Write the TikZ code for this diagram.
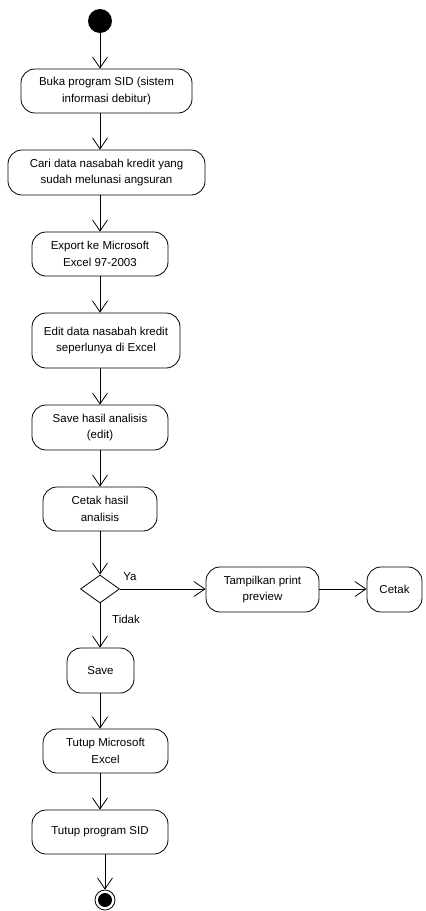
\documentclass[tikz,border=0pt]{standalone}
\usepackage{fontspec}
\setmainfont{Liberation Sans}
\usetikzlibrary{arrows.meta,shapes.geometric}

\begin{document}
\begin{tikzpicture}[x=1pt,y=-1pt,
  act/.style={draw,rounded corners=14pt,align=center,inner sep=2pt,font=\fontsize{11.5}{16.5}\selectfont,line width=0.8pt},
  flow/.style={draw,line width=0.8pt,-{Straight Barb[length=11pt,width=15pt,line width=0.8pt]}},
  lbl/.style={font=\fontsize{11.5}{13}\selectfont}]
\useasboundingbox (0,0) rectangle (426,911);
\node[circle,fill=black,minimum size=24pt,inner sep=0pt] (start) at (100,21) {};
\node[act,minimum width=171pt,minimum height=44pt] (buka) at (106.5,91) {Buka program SID (sistem\\informasi debitur)};
\node[act,minimum width=197pt,minimum height=45pt] (cari) at (106.5,172.5) {Cari data nasabah kredit yang\\sudah melunasi angsuran};
\node[act,minimum width=136pt,minimum height=44pt] (export) at (100,254) {Export ke Microsoft\\Excel 97-2003};
\node[act,minimum width=148pt,minimum height=55pt] (edit) at (106,340.5) {Edit data nasabah kredit\\seperlunya di Excel};
\node[act,minimum width=136pt,minimum height=45pt] (savehasil) at (100,427.5) {Save hasil analisis\\(edit)};
\node[act,minimum width=114pt,minimum height=44pt] (cetakhasil) at (100,509) {Cetak hasil\\analisis};
\node[diamond,draw,line width=0.8pt,minimum width=39pt,minimum height=28pt,inner sep=0pt,aspect=1.4] (cek) at (100,589) {};
\node[act,minimum width=113pt,minimum height=45pt] (preview) at (262.5,589.5) {Tampilkan print\\preview};
\node[act,minimum width=55pt,minimum height=45pt] (cetak) at (394.5,589.5) {Cetak};
\node[act,minimum width=67pt,minimum height=45pt] (save) at (100.5,670.5) {Save};
\node[act,minimum width=125pt,minimum height=44pt] (tutupexcel) at (105.5,751) {Tutup Microsoft\\Excel};
\node[act,minimum width=136pt,minimum height=44pt] (tutupsid) at (100,832) {Tutup program SID};
\node[circle,draw,line width=0.8pt,minimum size=20pt,inner sep=0pt] (end) at (105,900) {};
\node[circle,fill=black,minimum size=14pt,inner sep=0pt] at (end) {};
\node[lbl] (ya) at (130,577) {Ya};
\node[lbl] (tidak) at (126,619) {Tidak};
\draw[flow] (start) -- (buka.north -| start);
\draw[flow] (buka.south -| start) -- (cari.north -| start);
\draw[flow] (cari.south -| start) -- (export.north -| start);
\draw[flow] (export.south -| start) -- (edit.north -| start);
\draw[flow] (edit.south -| start) -- (savehasil.north -| start);
\draw[flow] (savehasil.south -| start) -- (cetakhasil.north -| start);
\draw[flow] (cetakhasil.south -| cek) -- (cek.north);
\draw[flow] (cek.east) -- (preview.west |- cek);
\draw[flow] (preview.east |- cek) -- (cetak.west |- cek);
\draw[flow] (cek.south) -- (save.north -| cek);
\draw[flow] (save.south -| start) -- (tutupexcel.north -| start);
\draw[flow] (tutupexcel.south -| start) -- (tutupsid.north -| start);
\draw[flow] (tutupsid.south -| end) -- (end.north);
\end{tikzpicture}
\end{document}
